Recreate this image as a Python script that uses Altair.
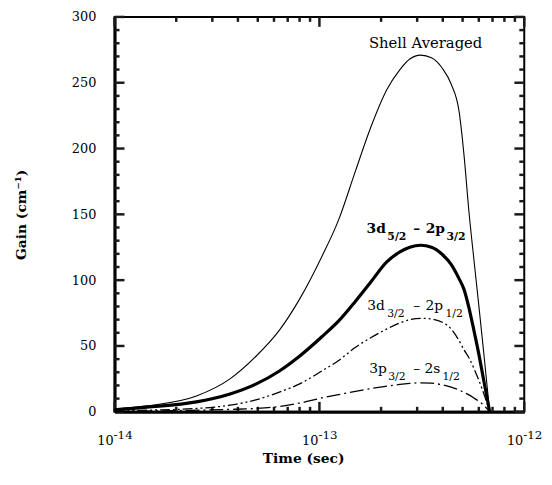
import altair as alt
import pandas as pd

# ---- data ----
time_s = [1.00e-14, 1.44e-14, 2.51e-14, 3.66e-14, 4.89e-14, 6.38e-14, 7.96e-14,
          1.028e-13, 1.242e-13, 1.50e-13, 1.77e-13, 2.138e-13, 2.472e-13,
          2.761e-13, 3.119e-13, 3.524e-13, 3.981e-13, 4.395e-13, 4.808e-13,
          5.08e-13, 5.37e-13, 5.675e-13, 5.998e-13, 6.339e-13, 6.78e-13]
shell_avg = [2, 4.5, 12, 25, 42, 62, 85, 118, 146, 183, 215, 245, 260, 268,
             271, 269, 261, 249, 228, 195, 152, 116, 81, 45, 0]
d52_p32 = [1.5, 3.5, 7.5, 13.5, 21, 31, 42, 57, 69, 84, 98, 114, 121.5, 125,
           126.5, 125, 119.5, 112, 101, 93, 79, 62, 44, 24, 0]
d32_p12 = [0.5, 1.2, 2.5, 5, 9, 15, 21, 31, 39, 49, 56, 63, 67.5, 70, 71,
           70.5, 68, 63, 54, 47, 41, 33, 24, 14, 0]
p32_s12 = [0.2, 0.5, 1.2, 1.8, 2.5, 4, 6.5, 10.5, 13, 15.5, 17.5, 19.5, 20.8,
           21.5, 22, 21.7, 20.5, 18.8, 16.5, 14.8, 12.8, 10.5, 8, 5, 0]

x_major = [1e-14, 1e-13, 1e-12]
x_exp = ["-14", "-13", "-12"]
x_minor = [2e-14, 3e-14, 4e-14, 5e-14, 6e-14, 7e-14, 8e-14, 9e-14,
           2e-13, 3e-13, 4e-13, 5e-13, 6e-13, 7e-13, 8e-13, 9e-13]
y_major = [0, 50, 100, 150, 200, 250, 300]
y_minor = [10, 20, 30, 40, 60, 70, 80, 90, 110, 120, 130, 140, 160, 170, 180,
           190, 210, 220, 230, 240, 260, 270, 280, 290]

W, H = 415, 400
FONT = "DejaVu Serif"
X0, X1, Y0, Y1 = 1e-14, 1e-12, 0, 300

xs = alt.Scale(type="log", domain=[X0, X1], nice=False)
ys = alt.Scale(domain=[Y0, Y1], nice=False)

xaxis = alt.Axis(title="Time (sec)", labels=False, ticks=False, grid=False,
                 domainWidth=3, domainColor="black",
                 titleFont=FONT, titleFontSize=14, titleFontWeight="bold",
                 titleColor="black", titleX=191, titleY=51,
                 titleBaseline="alphabetic", titleAlign="center")
yaxis = alt.Axis(title="Gain (cm⁻¹)", values=y_major, ticks=False, tickSize=0,
                 grid=False, domainWidth=3, domainColor="black",
                 labelFont=FONT, labelFontSize=13, labelColor="black",
                 labelPadding=19,
                 titleFont=FONT, titleFontSize=14, titleFontWeight="bold",
                 titleColor="black", titleX=-94, titleY=200, titleAngle=270,
                 titleBaseline="middle", titleAlign="center")


def X():
    return alt.X("t:Q", scale=xs, axis=xaxis)


def Y():
    return alt.Y("g:Q", scale=ys, axis=yaxis)


def curve(vals, width, dash=None):
    df = pd.DataFrame({"t": time_s, "g": vals})
    kw = dict(color="black", strokeWidth=width, interpolate="monotone")
    if dash:
        kw["strokeDash"] = dash
    return alt.Chart(df).mark_line(**kw).encode(x=X(), y=Y())


# inward ticks on all four sides, drawn as two-point line segments
px_y = (Y1 - Y0) / H            # gain units per pixel
px_x = 10 ** (2.0 / W)          # log-scale factor per pixel
rows = []
k = 0
for vals, ln in ((x_major, 10), (x_minor, 5)):
    for v in vals:
        rows += [(k, 0, v, Y0), (k, 1, v, Y0 + ln * px_y)]
        k += 1
        rows += [(k, 0, v, Y1), (k, 1, v, Y1 - ln * px_y)]
        k += 1
for vals, ln in ((y_major, 10), (y_minor, 5)):
    for v in vals:
        rows += [(k, 0, X0, v), (k, 1, X0 * px_x ** ln, v)]
        k += 1
        rows += [(k, 0, X1, v), (k, 1, X1 / px_x ** ln, v)]
        k += 1
ticks = pd.DataFrame(rows, columns=["id", "o", "t", "g"])

layers = [
    alt.Chart(ticks).mark_line(color="#1a1a1a", strokeWidth=2.5).encode(
        x=X(), y=Y(), detail="id:N", order="o:Q"),
    curve(shell_avg, 1.1),
    curve(d52_p32, 3.2),
    curve(d32_p12, 1.3, [10, 3, 2, 3, 2, 3]),
    curve(p32_s12, 1.3, [14, 4, 2, 4]),
]

# x tick labels: 10 with superscript exponent
xl = pd.DataFrame({"t": x_major, "e": x_exp, "b": ["10"] * 3})
layers.append(alt.Chart(xl).mark_text(font=FONT, fontSize=13, color="black",
                                      align="right", baseline="alphabetic",
                                      dx=-1, dy=34).encode(
    x=X(), y=alt.datum(0), text="b:N"))
layers.append(alt.Chart(xl).mark_text(font=FONT, fontSize=12, color="black",
                                      align="left", baseline="alphabetic",
                                      dx=-1, dy=28).encode(
    x=X(), y=alt.datum(0), text="e:N"))

# curve labels
layers.append(alt.Chart(pd.DataFrame({"t": [3.30e-13], "g": [276.5],
                                      "s": ["Shell Averaged"]}))
              .mark_text(font=FONT, fontSize=15, color="black", align="center",
                         baseline="alphabetic").encode(x=X(), y=Y(), text="s:N"))

anchor_t = 1.892e-13
label_rows = [
    (135.5, True, [("3d", 0, False), ("5/2", 21, True), ("–", 41, False),
                   ("2p", 60, False), ("3/2", 81, True)]),
    (77.25, False, [("3d", 0, False), ("3/2", 20, True), ("–", 41, False),
                    ("2p", 59, False), ("1/2", 79, True)]),
    (29.25, False, [("3p", 2, False), ("3/2", 21, True), ("–", 41, False),
                    ("2s", 57, False), ("1/2", 76, True)]),
]
for g, bold, pieces in label_rows:
    for txt, dx, sub in pieces:
        df = pd.DataFrame({"t": [anchor_t], "g": [g], "s": [txt]})
        layers.append(alt.Chart(df).mark_text(
            font=FONT, fontSize=11 if sub else 14,
            fontWeight="bold" if bold else "normal", color="black",
            align="center", baseline="alphabetic", dx=dx, dy=7 if sub else 0
        ).encode(x=X(), y=Y(), text="s:N"))

chart = alt.layer(*layers).properties(
    width=W, height=H,
    padding={"left": 108, "top": 6, "right": 20, "bottom": 60},
    autosize=alt.AutoSizeParams(type="none"),
    background="white",
).configure_view(stroke="black", strokeWidth=2)

chart.save("out.html", embed_options={"renderer": "svg", "actions": False})
